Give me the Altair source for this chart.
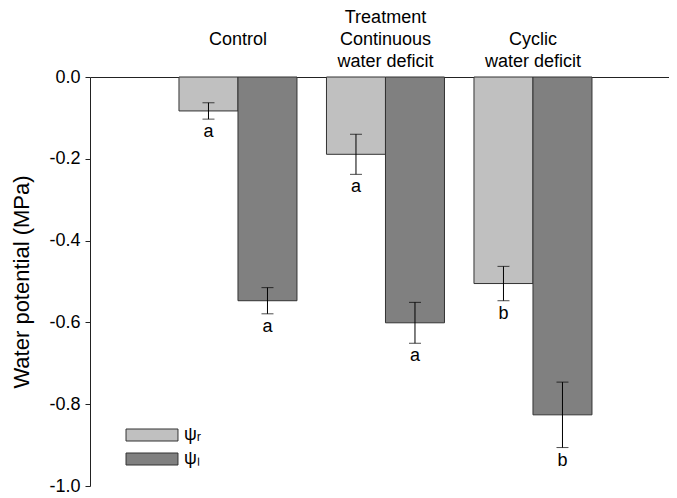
import altair as alt
import pandas as pd

FONT = "Liberation Sans, Arial, Helvetica, sans-serif"

groups = ["Control", "Treatment\nContinuous\nwater deficit", "Cyclic\nwater deficit"]
series = ["ψᵣ", "ψₗ"]
psi_r = [-0.083, -0.189, -0.505]
psi_l = [-0.547, -0.601, -0.826]
err_r = [0.020, 0.049, 0.042]
err_l = [0.032, 0.050, 0.080]
letters_r = ["a", "a", "b"]
letters_l = ["a", "a", "b"]
y_ticks = [0.0, -0.2, -0.4, -0.6, -0.8, -1.0]
colors = ["#c0c0c0", "#808080"]

rows = []
for i, g in enumerate(groups):
    rows.append(dict(group=g, series=series[0], value=psi_r[i], err=err_r[i], letter=letters_r[i]))
    rows.append(dict(group=g, series=series[1], value=psi_l[i], err=err_l[i], letter=letters_l[i]))
df = pd.DataFrame(rows)

base = alt.Chart(df).transform_calculate(
    lo="datum.value - datum.err", hi="datum.value + datum.err"
)

# pad each label with empty lines on top so all labels end on the same line
label_expr = (
    "split((length(split(datum.label, '\\n')) == 1 ? '\\n\\n' : "
    "(length(split(datum.label, '\\n')) == 2 ? '\\n' : '')) + datum.label, '\\n')"
)

x = alt.X(
    "group:N",
    sort=groups,
    scale=alt.Scale(paddingInner=0.2, paddingOuter=0.5627, align=0.536),
    axis=alt.Axis(
        orient="top", title=None, ticks=False, tickSize=0, labelAngle=0,
        labelExpr=label_expr, labelFont=FONT, labelFontSize=18,
        labelColor="black", labelLineHeight=22, labelPadding=69,
        labelBaseline="top", domainColor="#222", domainWidth=1,
    ),
)
xo = alt.XOffset("series:N", sort=series, scale=alt.Scale(paddingInner=0, paddingOuter=0))
yscale = alt.Scale(domain=[-1, 0], nice=False, zero=False)

bars = base.mark_bar(stroke="#333", strokeWidth=1).encode(
    x=x,
    xOffset=xo,
    y=alt.Y(
        "value:Q",
        scale=yscale,
        axis=alt.Axis(
            title="Water potential (MPa)", values=y_ticks,
            labelExpr="replace(format(datum.value, '.1f'), '\u2212', '-')",
            labelFont=FONT, labelFontSize=18, labelColor="black", labelPadding=5,
            tickSize=5, tickColor="#222", domainColor="#222",
            titleFont=FONT, titleFontSize=22, titleFontWeight="normal",
            titleColor="black", titlePadding=15, grid=False,
        ),
    ),
    color=alt.Color(
        "series:N", sort=series,
        scale=alt.Scale(domain=series, range=colors),
        legend=alt.Legend(
            title=None, orient="none", legendX=53, legendY=349,
            symbolType="M-4.33,-1H4.33V1H-4.33Z", symbolSize=144,
            symbolStrokeColor="#333", symbolStrokeWidth=1, symbolOpacity=1,
            labelFont=FONT, labelFontSize=18, labelColor="black",
            labelOffset=23, rowPadding=6,
        ),
    ),
)

rules = base.mark_rule(color="black", strokeWidth=1).encode(
    x=alt.X("group:N", sort=groups), xOffset=xo,
    y=alt.Y("lo:Q", scale=yscale), y2="hi:Q",
)
cap_lo = base.mark_tick(color="black", size=12, thickness=1).encode(
    x=alt.X("group:N", sort=groups), xOffset=xo, y=alt.Y("lo:Q", scale=yscale),
)
cap_hi = base.mark_tick(color="black", size=12, thickness=1).encode(
    x=alt.X("group:N", sort=groups), xOffset=xo, y=alt.Y("hi:Q", scale=yscale),
)
letters = base.mark_text(font=FONT, fontSize=18, color="black", baseline="alphabetic", dy=18).encode(
    x=alt.X("group:N", sort=groups), xOffset=xo, y=alt.Y("lo:Q", scale=yscale), text="letter:N",
)

chart = alt.layer(bars, rules, cap_lo, cap_hi, letters).properties(
    width=579, height=409, padding={"left": 2, "top": 0, "right": 0, "bottom": 0}
).configure_view(stroke=None).configure_axis(grid=False)

chart.save("out.html", embed_options={"renderer": "svg", "actions": False})
